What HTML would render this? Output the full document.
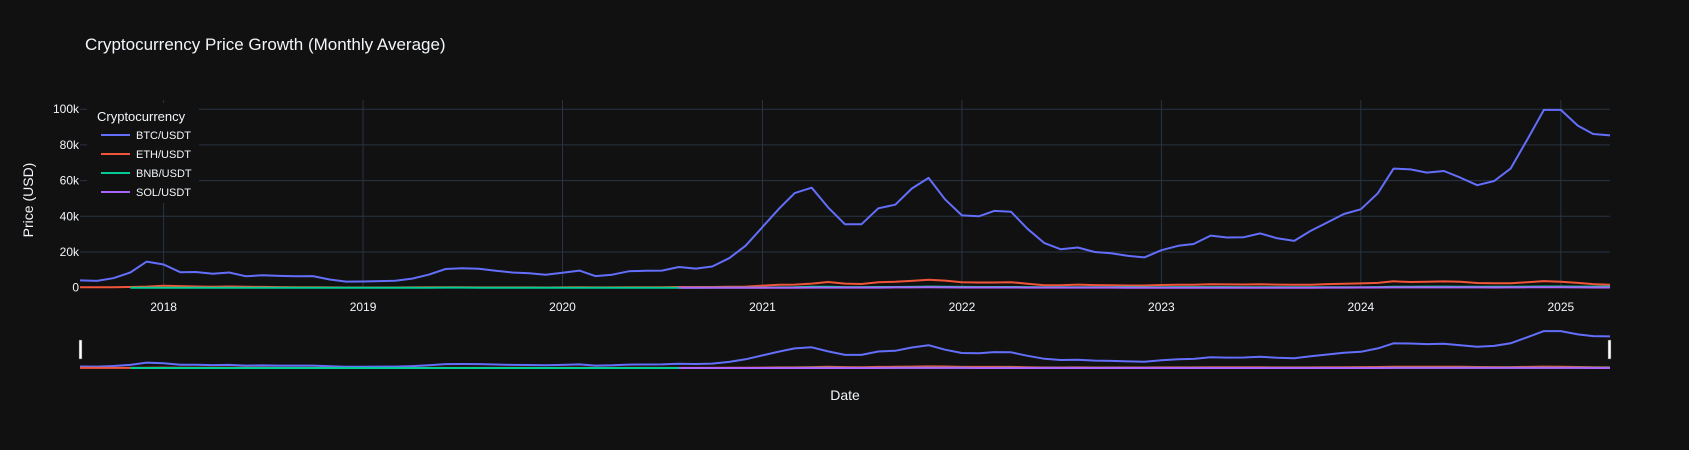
<!DOCTYPE html>
<html><head><meta charset="utf-8"><style>
html,body{margin:0;padding:0;background:#111111;}
svg{display:block;font-family:"Liberation Sans",sans-serif;}
</style></head><body>
<svg id="chart" width="1689" height="450" viewBox="0 0 1689 450" xmlns="http://www.w3.org/2000/svg">
<rect x="0" y="0" width="1689" height="450" fill="#111111"/>
<text x="85" y="50" fill="#f2f5fa" font-size="17">Cryptocurrency Price Growth (Monthly Average)</text>
<text transform="translate(33,200) rotate(-90)" text-anchor="middle" fill="#f2f5fa" font-size="14">Price (USD)</text>
<text x="845" y="400" text-anchor="middle" fill="#f2f5fa" font-size="14">Date</text>
<g id="grid"></g>
<g id="series"></g>
<g id="slider"></g>
<g id="legend"></g>
</svg>
<script>
const btc = [4100,3800,5300,8500,14600,
13000,8600,8800,7800,8500,6400,7000,6600,6400,6500,4600,3400,
3500,3700,3900,5100,7300,10500,10900,10600,9500,8500,8100,7200,
8400,9600,6500,7300,9200,9500,9600,11600,10700,11900,16500,23500,
34000,44500,53000,56000,45000,35500,35500,44500,46500,55500,61500,49500,
40500,40000,43000,42500,33000,25000,21500,22500,20000,19300,17800,17000,
21000,23500,24500,29200,28100,28300,30400,27700,26200,31800,36600,41300,
43900,52900,66700,66300,64500,65400,61700,57400,59800,66700,83200,99600,
99600,90800,86100,85300];
const eth = [300,290,300,370,640,
1100,890,650,520,690,520,460,320,230,210,170,100,
125,125,135,165,220,270,250,195,190,180,170,135,
160,240,155,180,205,235,260,400,370,375,480,620,
1200,1700,1750,2300,3200,2300,2100,3100,3300,3800,4400,4000,
3000,2900,2900,3100,2200,1400,1350,1750,1450,1320,1250,1240,
1500,1650,1700,1900,1850,1800,1900,1750,1620,1650,2000,2250,
2400,2700,3600,3200,3300,3550,3300,2650,2450,2500,3100,3700,
3300,2700,2000,1600];
const bnb = [null,null,null,1.8,3,
15,10,11,13,13,15,14,11,10,10,8,5.5,
6,9,15,20,25,33,30,28,22,19,18,15,
16,22,13,15,16,17,17,22,27,30,29,34,
42,150,250,500,500,330,310,400,420,450,600,560,
470,400,400,420,330,250,240,300,280,280,310,260,
290,310,310,330,310,260,240,230,215,210,240,260,
305,350,520,580,590,600,560,530,560,580,610,700,
690,640,600,590];
const sol = [null,null,null,null,null,
null,null,null,null,null,null,null,null,null,null,null,null,
null,null,null,null,null,null,null,null,null,null,null,null,
null,null,null,null,null,null,null,3,3.5,2.5,2,1.7,
4,12,16,30,40,33,30,55,150,170,215,190,
140,95,95,110,60,38,38,38,33,31,18,13,
20,23,21,22,20,17,24,23,19,27,50,80,
95,105,170,160,155,150,160,145,140,155,220,210,
210,180,130,125];
const yTicks = [0,20000,40000,60000,80000,100000];
const yTickLabels = ["0","20k","40k","60k","80k","100k"];
const xTickYears = [2018,2019,2020,2021,2022,2023,2024,2025];
const seriesNames = ["BTC/USDT","ETH/USDT","BNB/USDT","SOL/USDT"];

const NS="http://www.w3.org/2000/svg";
const colors=["#636efa","#EF553B","#00cc96","#ab63fa"];
const X0=80, X1=1610, T0=Date.UTC(2017,7,1), T1=Date.UTC(2025,3,1);
function xOfTime(t){return X0+(t-T0)/(T1-T0)*(X1-X0);}
function xOfIndex(i){return xOfTime(Date.UTC(2017,7+i,1));}
const Y0=287.7, PXK=1.785/1000;
function yMain(v){return Y0-v*PXK;}
function ySlider(v){return 368-v*0.00037;}
function mk(tag,attrs,parent){const e=document.createElementNS(NS,tag);for(const k in attrs)e.setAttribute(k,attrs[k]);parent.appendChild(e);return e;}
const grid=document.getElementById('grid'), ser=document.getElementById('series'), sl=document.getElementById('slider'), lg=document.getElementById('legend');
yTicks.forEach((v,i)=>{
  const y=yMain(v);
  if(v>0){const l=mk('line',{x1:X0,x2:X1,y1:y,y2:y,stroke:'#283442','stroke-width':1},grid);
  
  }
  const t=mk('text',{x:79,y:y+4,'text-anchor':'end',fill:'#f2f5fa','font-size':12},grid);
  t.textContent=yTickLabels[i];
  
  
});
xTickYears.forEach(yr=>{
  const x=xOfTime(Date.UTC(yr,0,1));
  const l=mk('line',{x1:x,x2:x,y1:100,y2:Y0,stroke:'#283442','stroke-width':1},grid);
  
  
  const t=mk('text',{x:x,y:311,'text-anchor':'middle',fill:'#f2f5fa','font-size':12},grid);
  t.textContent=yr;
  
  
});
function pathFor(arr,yf){let d='',pen=false;arr.forEach((v,i)=>{if(v==null){pen=false;return;}d+=(pen?'L':'M')+xOfIndex(i).toFixed(1)+','+yf(v).toFixed(1);pen=true;});return d;}
[btc,eth,bnb,sol].forEach((arr,k)=>{
  const p=mk('path',{d:pathFor(arr,yMain),fill:'none',stroke:colors[k],'stroke-width':2,'stroke-linejoin':'round'},ser);
  
  
  const q=mk('path',{d:pathFor(arr,ySlider),fill:'none',stroke:colors[k],'stroke-width':2,'stroke-linejoin':'round'},sl);
  
  
});
[X0-1,X1-2].forEach((x,i)=>{
  const h=mk('rect',{x:x,y:340,width:3,height:19,fill:'#ffffff',stroke:'#444',"stroke-width":0.5},sl);
  
  
});
const bg=mk('rect',{x:87,y:103,width:112,height:100,fill:'#111111'},lg);


const lt=mk('text',{x:97,y:121,fill:'#f2f5fa','font-size':13},lg);
lt.textContent='Cryptocurrency';


seriesNames.forEach((n,i)=>{
  const y=135+i*19;
  const g=mk('g',{},lg);
  
  
  mk('line',{x1:101,x2:130,y1:y,y2:y,stroke:colors[i],'stroke-width':2},g);
  const t=mk('text',{x:136,y:y+4,fill:'#f2f5fa','font-size':11},g);
  t.textContent=n;
});
</script>
</body></html>
